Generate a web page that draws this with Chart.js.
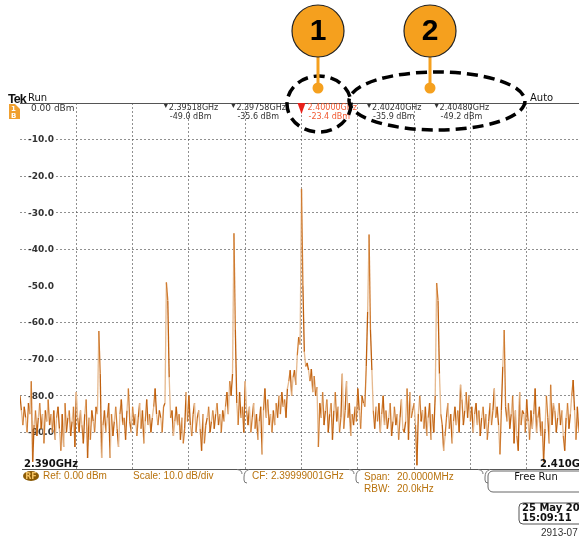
<!DOCTYPE html>
<html><head><meta charset="utf-8">
<script src="https://cdn.jsdelivr.net/npm/chart.js@4"></script>
<style>
html,body{margin:0;padding:0;overflow:hidden;background:#fff;width:579px;height:540px}
#wrap{position:absolute;left:0;top:0;width:600px;height:540px}
</style></head>
<body><div id="wrap"><canvas id="c" width="600" height="540"></canvas></div>
<script>
// ---- data ----
const startFreqMHz = 2390;
const stopFreqMHz = 2410;
const freqStepMHz = 0.05;
const yTickValues = [-10, -20, -30, -40, -50, -60, -70, -80, -90];
const yTickLabels = ["-10.0", "-20.0", "-30.0", "-40.0", "-50.0", "-60.0", "-70.0", "-80.0", "-90.0"];
const markerFreqsMHz = [2395.18, 2397.58, 2400.00, 2402.40, 2404.80];
const markerFreqText = ["2.39518GHz", "2.39758GHz", "2.40000GHz", "2.40240GHz", "2.40480GHz"];
const markerLevelText = ["-49.0 dBm", "-35.6 dBm", "-23.4 dBm", "-35.9 dBm", "-49.2 dBm"];
const activeMarker = 2;
const callouts = ["1", "2"];
const traceDbm = [
-80,-84,-88,-83,-86,-90,-82,-85,-76,-98,-88,-84,-91,-86,-82,-89,-85,-93,-84,-87,
-81,-88,-85,-90,-84,-92,-86,-83,-89,-95,-85,-94,-82,-90,-86,-84,-91,-87,-83,-94,
-79,-86,-90,-84,-88,-93,-85,-81,-97,-86,-92,-84,-87,-90,-83,-85,-62.3,-74,-97,-88,
-84,-90,-86,-82,-97,-85,-91,-87,-83,-89,-94,-85,-81,-88,-86,-92,-84,-78,-87,-90,
-83,-88,-85,-91,-86,-82,-89,-84,-93,-87,-81,-88,-85,-90,-86,-83,-78,-85,-88,-84,
-86,-90,-83,-82,-49,-54,-75,-86,-84,-91,-87,-83,-88,-85,-92,-86,-93,-89,-79,-87,
-80,-88,-91,-85,-82,-90,-86,-84,-89,-95,-85,-93,-88,-86,-83,-90,-87,-84,-89,-85,
-82,-88,-85,-90,-84,-87,-83,-79,-85,-76,-80,-74,-35.6,-62,-82,-88,-79,-86,-83,-90,
-76,-84,-88,-83,-90,-86,-82,-89,-85,-92,-87,-83,-96,-84,-78,-86,-81,-88,-85,-90,
-84,-88,-82,-86,-80,-85,-79,-83,-81,-86,-78,-76,-73,-80,-75,-73,-77,-69,-64,-66,
-23.4,-50,-68,-72,-71,-73,-76,-72.7,-79,-74.6,-80,-77.6,-94,-82,-86,-79,-88,-84,-81,-90,
-85,-82,-92,-84,-79,-87,-83,-90,-86,-74,-89,-84,-76,-86,-82,-91,-85,-88,-83,-87,
-78,-84,-89,-80,-82,-83,-72,-57,-35.9,-62,-73,-84,-89,-83,-87,-82,-90,-85,-80,-88,
-84,-89,-86,-82,-91,-87,-83,-88,-85,-92,-86,-81,-89,-90,-87,-78,-92,-79,-86,-84,
-82,-88,-99,-85,-80,-87,-84,-89,-83,-91,-86,-82,-92,-85,-90,-80,-49.2,-54,-74,-85,
-88,-95,-91,-86,-82,-89,-85,-93,-87,-83,-88,-84,-90,-77,-81,-88,-84,-79,-86,-80,
-87,-83,-90,-85,-82,-88,-84,-91,-86,-83,-89,-85,-92,-87,-82,-88,-84,-78,-86,-83,
-88,-96,-84,-72,-62,-83,-87,-82,-89,-85,-80,-93,-84,-91,-95,-79,-88,-84,-85,-90,
-81,-87,-92,-84,-89,-85,-78,-90,-86,-83,-91,-87,-98,-89,-80,-86,-93,-77,-88,-82,
-84,-90,-86,-82,-88,-84,-91,-95,-86,-82,-89,-85,-80,-75.7,-84,-92,-83,-90,-86,-84,
-87
];

// ---- drawing ----
const points = traceDbm.map((v, i) => ({ x: startFreqMHz + i * freqStepMHz, y: v }));
const GRID = 'rgba(85,85,85,0.65)';
const TXT = '#333';
const ORANGE_TXT = '#b8720c';

function roundRect(ctx, x, y, w, h, r) {
  ctx.beginPath();
  ctx.moveTo(x + r, y); ctx.lineTo(x + w - r, y); ctx.arcTo(x + w, y, x + w, y + r, r);
  ctx.lineTo(x + w, y + h - r); ctx.arcTo(x + w, y + h, x + w - r, y + h, r);
  ctx.lineTo(x + r, y + h); ctx.arcTo(x, y + h, x, y + h - r, r);
  ctx.lineTo(x, y + r); ctx.arcTo(x, y, x + r, y, r); ctx.closePath();
}

const overlay = {
  id: 'overlay',
  beforeDatasetsDraw(chart) {
    const { ctx, chartArea: a, scales: { y } } = chart;
    ctx.save();
    ctx.strokeStyle = '#555'; ctx.lineWidth = 1;
    ctx.beginPath(); ctx.moveTo(20, a.top + 0.5); ctx.lineTo(600, a.top + 0.5); ctx.stroke();
    ctx.beginPath(); ctx.moveTo(22, a.bottom + 0.5); ctx.lineTo(600, a.bottom + 0.5); ctx.stroke();
    ctx.font = 'bold 9px "DejaVu Sans"';
    ctx.textAlign = 'right'; ctx.textBaseline = 'middle';
    yTickValues.forEach((v, i) => {
      const py = y.getPixelForValue(v);
      const w = ctx.measureText(yTickLabels[i]).width;
      ctx.fillStyle = '#fff';
      ctx.fillRect(54 - w - 2, py - 5, w + 4, 10);
      ctx.fillStyle = TXT;
      ctx.fillText(yTickLabels[i], 54, py + 0.5);
    });
    ctx.restore();
  },
  afterDraw(chart) {
    const { ctx, chartArea: a, scales: { x } } = chart;
    ctx.save();
    ctx.fillStyle = '#111'; ctx.textBaseline = 'alphabetic'; ctx.textAlign = 'left';
    ctx.font = 'bold 12.5px "Liberation Sans"';
    ctx.letterSpacing = '-1px';
    ctx.fillText('Tek', 8, 102.5);
    ctx.letterSpacing = '0px';
    ctx.font = '10px "DejaVu Sans"'; ctx.fillText('Run', 28, 101);
    ctx.fillText('Auto', 530, 101);
    ctx.fillStyle = '#f0a030'; ctx.fillRect(9, 104, 11, 15);
    ctx.fillStyle = '#fff'; ctx.beginPath(); ctx.moveTo(15, 104); ctx.lineTo(20, 104); ctx.lineTo(20, 109); ctx.closePath(); ctx.fill();
    ctx.font = 'bold 7px "DejaVu Sans"'; ctx.fillText('1', 11, 111); ctx.fillText('B', 11, 118);
    ctx.fillStyle = TXT; ctx.font = '9px "DejaVu Sans"'; ctx.textBaseline = 'middle';
    ctx.fillText('0.00 dBm', 31, 109);
    markerFreqsMHz.forEach((f, i) => {
      const px = x.getPixelForValue(f);
      const act = i === activeMarker;
      if (act) {
        ctx.fillStyle = '#e8201a';
        ctx.beginPath(); ctx.moveTo(px - 4, 103); ctx.lineTo(px + 4, 103); ctx.lineTo(px, 114); ctx.closePath(); ctx.fill();
        ctx.fillStyle = '#f05a32';
      } else {
        ctx.fillStyle = TXT;
        ctx.beginPath(); ctx.moveTo(px - 2, 104); ctx.lineTo(px + 2, 104); ctx.lineTo(px, 108); ctx.closePath(); ctx.fill();
      }
      ctx.font = '8px "DejaVu Sans"';
      const tx = act ? px + 6 : px + 3;
      ctx.fillText(markerFreqText[i], tx, 107.5);
      ctx.fillText(markerLevelText[i], tx + 1, 116.5);
    });
    ctx.fillStyle = '#111'; ctx.font = 'bold 10px "DejaVu Sans"';
    ctx.fillText('2.390GHz', 24, 464);
    ctx.fillText('2.410GHz', 540, 464);
    ctx.strokeStyle = '#777'; ctx.lineWidth = 1;
    [243, 355, 484].forEach(sx => {
      ctx.beginPath(); ctx.moveTo(sx - 6, a.bottom + 0.5); ctx.quadraticCurveTo(sx - 1, a.bottom + 1, sx - 1, a.bottom + 5); ctx.stroke();
      ctx.beginPath(); ctx.moveTo(sx + 6, a.bottom + 0.5); ctx.quadraticCurveTo(sx + 1, a.bottom + 2, sx + 1, a.bottom + 8); ctx.lineTo(sx + 1, a.bottom + 11); ctx.quadraticCurveTo(sx + 1, a.bottom + 14, sx + 4, a.bottom + 14); ctx.stroke();
    });
    ctx.fillStyle = '#8a5a06';
    ctx.beginPath(); ctx.ellipse(31, 476, 8, 5, 0, 0, 2 * Math.PI); ctx.fill();
    ctx.fillStyle = '#f3c060'; ctx.font = 'bold 8px "DejaVu Sans"'; ctx.textAlign = 'center';
    ctx.fillText('RF', 31, 476.5);
    ctx.textAlign = 'left'; ctx.fillStyle = ORANGE_TXT; ctx.font = '10px "Liberation Sans"';
    ctx.fillText('Ref: 0.00 dBm', 43, 476);
    ctx.fillText('Scale: 10.0 dB/div', 133, 476);
    ctx.fillText('CF: 2.39999001GHz', 252, 476);
    ctx.fillText('Span:', 364, 477);
    ctx.fillText('20.0000MHz', 397, 477);
    ctx.fillText('RBW:', 364, 489);
    ctx.fillText('20.0kHz', 397, 489);
    ctx.strokeStyle = '#666'; roundRect(ctx, 488, 471, 100, 21, 5); ctx.stroke();
    ctx.fillStyle = '#111'; ctx.font = '10px "DejaVu Sans"'; ctx.textAlign = 'center';
    ctx.fillText('Free Run', 536, 477);
    ctx.strokeStyle = '#555'; roundRect(ctx, 519, 503, 70, 21, 4); ctx.stroke();
    ctx.textAlign = 'left'; ctx.font = 'bold 10px "DejaVu Sans"'; ctx.fillStyle = '#111';
    ctx.fillText('25 May 2011', 522, 508.5);
    ctx.fillText('15:09:11', 522, 518.5);
    ctx.font = '10px "Liberation Sans"'; ctx.fillStyle = '#333';
    ctx.fillText('2913-07', 541, 533);
    ctx.strokeStyle = '#000'; ctx.lineWidth = 3.5; ctx.setLineDash([11, 6]);
    ctx.beginPath(); ctx.ellipse(319, 104, 32, 28, 0, 0, 2 * Math.PI); ctx.stroke();
    ctx.beginPath(); ctx.ellipse(437, 101, 88, 29, 0, 0, 2 * Math.PI); ctx.stroke();
    ctx.setLineDash([]);
    [[318, 31], [430, 31]].forEach(([cx, cy], i) => {
      ctx.strokeStyle = '#f5a01e'; ctx.lineWidth = 3;
      ctx.beginPath(); ctx.moveTo(cx, cy + 26); ctx.lineTo(cx, 88); ctx.stroke();
      ctx.fillStyle = '#f5a01e';
      ctx.beginPath(); ctx.arc(cx, 88, 5.5, 0, 2 * Math.PI); ctx.fill();
      ctx.beginPath(); ctx.arc(cx, cy, 26, 0, 2 * Math.PI); ctx.fill();
      ctx.strokeStyle = '#222'; ctx.lineWidth = 1.2; ctx.stroke();
      ctx.fillStyle = '#000'; ctx.font = 'bold 30px "Liberation Sans"'; ctx.textAlign = 'center'; ctx.textBaseline = 'middle';
      ctx.fillText(callouts[i], cx, cy + 1);
    });
    ctx.restore();
  }
};

const gridColor = (edgeVals) => (c) => (edgeVals.includes(c.tick.value) ? 'rgba(0,0,0,0)' : GRID);

new Chart(document.getElementById('c'), {
  type: 'line',
  data: {
    datasets: [{
      data: points,
      borderColor: '#c8701e',
      borderWidth: 1.3,
      pointRadius: 0,
      tension: 0,
      segment: {
        borderColor: (c) => ['#c0600e', '#e6b98e', '#cf7b30'][c.p0DataIndex % 3]
      }
    }]
  },
  options: {
    responsive: false,
    animation: false,
    events: [],
    layout: { padding: { left: 20, right: 17, top: 103, bottom: 71 } },
    plugins: { legend: { display: false }, tooltip: { enabled: false } },
    scales: {
      x: {
        type: 'linear', min: startFreqMHz, max: stopFreqMHz,
        ticks: { display: false, stepSize: 2 },
        grid: { drawTicks: false, color: gridColor([2390, 2410]), lineWidth: 1 },
        border: { display: false, dash: [2, 2] },
        afterFit(s) { s.height = 0; }
      },
      y: {
        min: -100, max: 0,
        ticks: { display: false, stepSize: 10 },
        grid: { drawTicks: false, color: gridColor([0, -100, -50]), lineWidth: 1 },
        border: { display: false, dash: [2, 2] },
        afterFit(s) { s.width = 0; }
      }
    }
  },
  plugins: [overlay]
});
</script>
</body></html>
